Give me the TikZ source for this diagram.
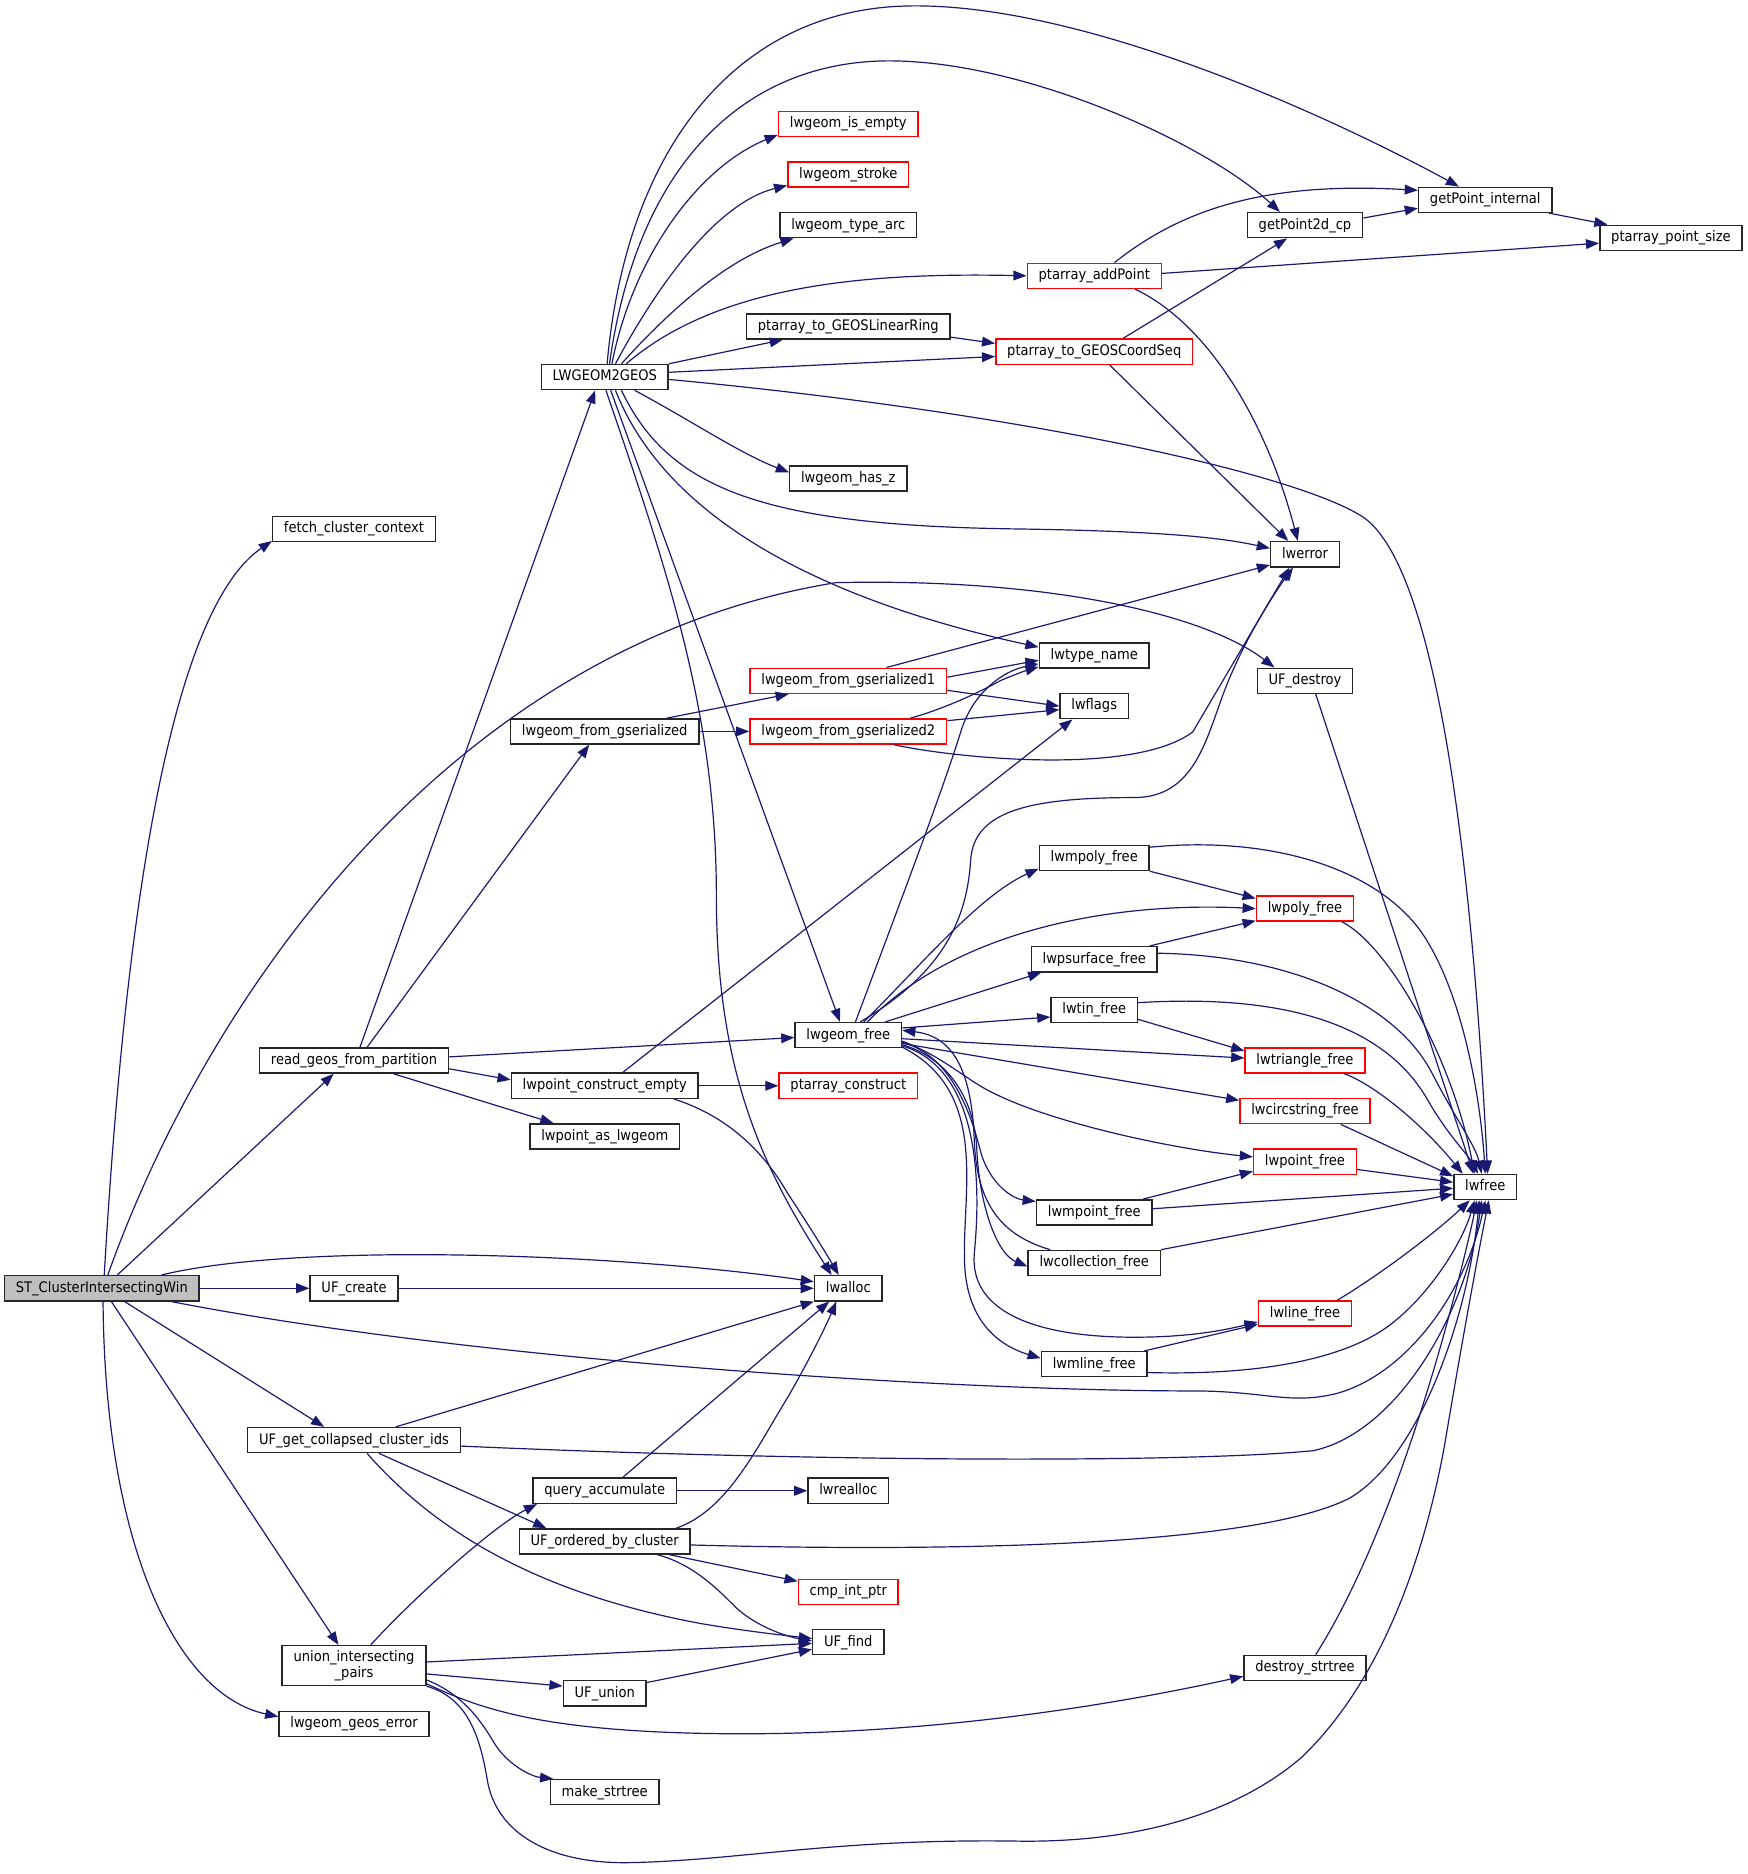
\documentclass[tikz,border=0pt]{standalone}
\usepackage{fontspec}
\newfontfamily\dgfont{DejaVu Sans}[FakeStretch=0.9]
\usetikzlibrary{arrows.meta,calc}
\definecolor{eblue}{HTML}{191970}
\definecolor{bgray}{HTML}{BFBFBF}
\definecolor{rnode}{HTML}{FF0000}
\begin{document}
\begin{tikzpicture}[x=0.6pt,y=-0.6pt,
  boxbase/.style={draw=black!85,line width=0.75pt,fill=white,inner xsep=5.7pt,inner ysep=0pt,
    font=\dgfont\fontsize{7.3}{8.4}\selectfont},
  box/.style={boxbase,minimum height=12.6pt,text height=5.5pt,text depth=1.6pt},
  rbox/.style={box,draw=rnode},
  e/.style={draw=eblue,line width=0.6pt,-{Triangle[length=6.6pt,width=4.9pt]}},
]
\useasboundingbox (0,0) rectangle (1464,1569.6);
% nodes
\node[box,fill=bgray] (st) at (85.3,1079) {ST\_ClusterIntersectingWin};
\node[box] (fetch) at (296.5,443) {fetch\_cluster\_context};
\node[box] (l2g) at (506.5,315.8) {LWGEOM2GEOS};
\node[rbox] (isempty) at (710.5,103.8) {lwgeom\_is\_empty};
\node[rbox] (stroke) at (710.5,146.2) {lwgeom\_stroke};
\node[box] (typearc) at (710.5,188.6) {lwgeom\_type\_arc};
\node[rbox] (addpoint) at (916.5,231) {ptarray\_addPoint};
\node[box] (linring) at (710.5,273.4) {ptarray\_to\_GEOSLinearRing};
\node[rbox] (coordseq) at (916.5,294.6) {ptarray\_to\_GEOSCoordSeq};
\node[box] (p2d) at (1093,188.6) {getPoint2d\_cp};
\node[box] (pint) at (1244,167.4) {getPoint\_internal};
\node[box] (psize) at (1399.5,199.2) {ptarray\_point\_size};
\node[box] (hasz) at (710.5,400.6) {lwgeom\_has\_z};
\node[box] (lwerror) at (1093,464.2) {lwerror};
\node[box] (ufdestroy) at (1093,570.2) {UF\_destroy};
\node[box] (lwtype) at (916.5,549) {lwtype\_name};
\node[box] (lwflags) at (916.5,591.4) {lwflags};
\node[rbox] (fg1) at (710.5,570.2) {lwgeom\_from\_gserialized1};
\node[rbox] (fg2) at (710.5,612.6) {lwgeom\_from\_gserialized2};
\node[box] (fg) at (506.5,612.6) {lwgeom\_from\_gserialized};
\node[box] (mpoly) at (916.5,718.6) {lwmpoly\_free};
\node[rbox] (poly) at (1093,761) {lwpoly\_free};
\node[box] (psurf) at (916.5,803.4) {lwpsurface\_free};
\node[box] (tin) at (916.5,845.8) {lwtin\_free};
\node[box] (gfree) at (710.5,867) {lwgeom\_free};
\node[rbox] (tri) at (1093,888.2) {lwtriangle\_free};
\node[rbox] (circ) at (1093,930.6) {lwcircstring\_free};
\node[rbox] (pfree) at (1093,973) {lwpoint\_free};
\node[box] (lwfree) at (1244,994.2) {lwfree};
\node[box] (mpoint) at (916.5,1015.4) {lwmpoint\_free};
\node[box] (coll) at (916.5,1057.8) {lwcollection\_free};
\node[rbox] (lnfree) at (1093,1100.2) {lwline\_free};
\node[box] (mline) at (916.5,1142.6) {lwmline\_free};
\node[box] (rgeos) at (296.5,888.2) {read\_geos\_from\_partition};
\node[box] (pce) at (506.5,909.4) {lwpoint\_construct\_empty};
\node[rbox] (pacons) at (710.5,909.4) {ptarray\_construct};
\node[box] (pasgeom) at (506.5,951.8) {lwpoint\_as\_lwgeom};
\node[box] (lwalloc) at (710.5,1079) {lwalloc};
\node[box] (ufcreate) at (296.5,1079) {UF\_create};
\node[box] (ufgcci) at (296.5,1206.2) {UF\_get\_collapsed\_cluster\_ids};
\node[box] (qacc) at (506.5,1248.6) {query\_accumulate};
\node[box] (lwrealloc) at (710.5,1248.6) {lwrealloc};
\node[box] (ufobc) at (506.5,1291) {UF\_ordered\_by\_cluster};
\node[rbox] (cmp) at (710.5,1333.4) {cmp\_int\_ptr};
\node[box] (uffind) at (710.5,1375.4) {UF\_find};
\node[boxbase,align=center,minimum height=20pt,inner ysep=1pt] (uip) at (296.5,1395) {union\_intersecting\\\_pairs};
\node[box] (ufunion) at (506.5,1418.2) {UF\_union};
\node[box] (dstr) at (1093,1397) {destroy\_strtree};
\node[box] (geoserr) at (296.5,1443.8) {lwgeom\_geos\_error};
\node[box] (mkstr) at (506.5,1501) {make\_strtree};
% ST edges
\draw[e] ($(st.north)+(2,0)$) .. controls (100,850) and (130,520) .. ($(fetch.south west)+(0,-1)$);
\draw[e] ($(st.north)+(5,0)$) .. controls (175,830) and (380,540) .. (700,488) .. controls (880,484) and (1010,515) .. ($(ufdestroy.north west)+(15,0)$);
\draw[e] ($(st.north)+(13,0)$) -- ($(rgeos.south)+(-17,0)$);
\draw[e] ($(st.north)+(50,0)$) .. controls (250,1040) and (520,1050) .. ($(lwalloc.west)+(0,-5.5)$);
\draw[e] (st.east) -- (ufcreate.west);
\draw[e] ($(st.south)+(58,0)$) .. controls (400,1140) and (800,1165) .. (1000,1165) .. controls (1060,1165) and (1080,1177) .. (1120,1167) .. controls (1180,1150) and (1228,1080) .. (lwfree.south);
\draw[e] ($(st.south)+(19,0)$) -- ($(ufgcci.north)+(-25,0)$);
\draw[e] ($(st.south)+(8,0)$) -- ($(uip.north)+(-13,0)$);
\draw[e] ($(st.south)+(1,0)$) .. controls (88,1300) and (150,1420) .. ($(geoserr.west)+(0,-6)$);
% read_geos_from_partition
\draw[e] ($(rgeos.north)+(5,0)$) -- ($(l2g.south)+(-8,0)$);
\draw[e] ($(rgeos.north)+(11,0)$) -- ($(fg.south)+(-13,0)$);
\draw[e] ($(rgeos.east)+(0,-3)$) -- ($(gfree.west)+(0,2)$);
\draw[e] ($(rgeos.east)+(0,7)$) -- ($(pce.west)+(0,-5)$);
\draw[e] ($(rgeos.south)+(33,0)$) -- ($(pasgeom.north)+(-43,0)$);
% LWGEOM2GEOS
\draw[e] ($(l2g.north)+(2,0)$) .. controls (525,120) and (620,8) .. (760,5) .. controls (900,2) and (1100,90) .. ($(pint.north)+(-22,0)$);
\draw[e] ($(l2g.north)+(4,0)$) .. controls (535,130) and (630,50) .. (747,51) .. controls (860,52) and (1010,120) .. ($(p2d.north)+(-21,0)$);
\draw[e] ($(l2g.north)+(6,0)$) .. controls (530,215) and (585,140) .. ($(isempty.south west)+(0,-2)$);
\draw[e] ($(l2g.north)+(9,0)$) .. controls (550,240) and (600,170) .. ($(stroke.south west)+(0,-2)$);
\draw[e] ($(l2g.north)+(14,0)$) .. controls (570,250) and (615,215) .. ($(typearc.south west)+(12,0)$);
\draw[e] ($(l2g.north)+(18,0)$) .. controls (600,240) and (720,228) .. (addpoint.west);
\draw[e] (l2g.north east) -- ($(linring.south west)+(31,0)$);
\draw[e] ($(l2g.east)+(0,-4)$) -- ($(coordseq.west)+(0,4)$);
\draw[e] ($(l2g.east)+(0,2)$) .. controls (850,345) and (1080,395) .. (1140,432) .. controls (1200,469) and (1232,700) .. ($(lwfree.north)+(2,0)$);
\draw[e] ($(l2g.south)+(25,0)$) .. controls (575,350) and (620,380) .. ($(hasz.west)+(0,-5)$);
\draw[e] ($(l2g.south)+(14,0)$) .. controls (560,410) and (640,440) .. (850,443) .. controls (990,445) and (1030,452) .. ($(lwerror.west)+(0,-5)$);
\draw[e] ($(l2g.south)+(9,0)$) .. controls (560,440) and (700,505) .. ($(lwtype.west)+(0,-7)$);
\draw[e] ($(l2g.south)+(5,0)$) -- ($(gfree.north)+(-7,0)$);
\draw[e] ($(l2g.south)+(1,0)$) .. controls (560,480) and (600,600) .. (600,750) .. controls (600,900) and (640,980) .. ($(lwalloc.north)+(-14,0)$);
% ptarray functions
\draw[e] ($(addpoint.north)+(17,0)$) .. controls (990,175) and (1060,152) .. ($(pint.west)+(0,-8)$);
\draw[e] ($(addpoint.east)+(0,-2)$) -- ($(psize.west)+(0,4.5)$);
\draw[e] ($(addpoint.south)+(34,0)$) .. controls (1010,270) and (1060,350) .. ($(lwerror.north)+(-6,0)$);
\draw[e] ($(linring.east)+(0,9)$) -- ($(coordseq.west)+(0,-7)$);
\draw[e] ($(coordseq.north)+(24,0)$) -- ($(p2d.south)+(-15,0)$);
\draw[e] ($(coordseq.south)+(13,0)$) -- ($(lwerror.north)+(-14,0)$);
\draw[e] ($(p2d.east)+(0,-6)$) -- ($(pint.west)+(0,7)$);
\draw[e] ($(pint.south east)+(-3,0)$) -- ($(psize.north west)+(7,0)$);
% gserialized
\draw[e] ($(fg.north)+(52,0)$) -- ($(fg1.south west)+(33,0)$);
\draw[e] (fg.east) -- (fg2.west);
\draw[e] ($(fg1.north)+(32,0)$) -- ($(lwerror.west)+(0,9)$);
\draw[e] ($(fg1.east)+(0,-3)$) -- ($(lwtype.west)+(0,4)$);
\draw[e] ($(fg1.east)+(0,8)$) -- ($(lwflags.west)+(0,0)$);
\draw[e] ($(fg2.north)+(52,0)$) .. controls (790,594) and (820,580) .. (838,570) .. controls (850,565) and (858,562) .. ($(lwtype.west)+(0,9.5)$);
\draw[e] ($(fg2.east)+(0,-9)$) -- ($(lwflags.west)+(0,3)$);
\draw[e] ($(fg2.south)+(38,0)$) .. controls (800,635) and (950,650) .. (999,613) -- ($(lwerror.south)+(-13,0)$);
\draw[e] ($(ufdestroy.south)+(9,0)$) -- ($(lwfree.north)+(-10,0)$);
% lwpoint_construct_empty
\draw[e] ($(pce.north)+(15,0)$) -- ($(lwflags.south west)+(11,0)$);
\draw[e] (pce.east) -- (pacons.west);
\draw[e] ($(pce.south)+(58,0)$) .. controls (610,935) and (640,965) .. (660,1000) .. controls (680,1030) and (695,1055) .. ($(lwalloc.north)+(-8,0)$);
% lwgeom_free
\draw[e] ($(gfree.north)+(6,0)$) .. controls (760,740) and (790,660) .. (805,612) .. controls (815,580) and (840,562) .. ($(lwtype.west)+(0,7)$);
\draw[e] ($(gfree.north)+(10,0)$) .. controls (790,815) and (810,770) .. (813,720) .. controls (816,680) and (860,668) .. (950,668) .. controls (1000,668) and (1010,620) .. (1025,580) .. controls (1040,540) and (1065,500) .. ($(lwerror.south)+(-10,0)$);
\draw[e] ($(gfree.north)+(13,0)$) .. controls (770,810) and (820,750) .. ($(mpoly.west)+(0,9)$);
\draw[e] ($(gfree.north)+(16,0)$) .. controls (800,780) and (930,755) .. (poly.west);
\draw[e] ($(gfree.north)+(31,0)$) -- ($(psurf.south west)+(9,0)$);
\draw[e] ($(gfree.east)+(0,-6)$) -- ($(tin.west)+(0,6)$);
\draw[e] ($(gfree.east)+(0,3)$) -- ($(tri.west)+(0,-2)$);
\draw[e] ($(gfree.east)+(0,7)$) -- ($(circ.west)+(0,-9)$);
\draw[e] ($(gfree.east)+(0,5)$) .. controls (790,885) and (810,905) .. (831,915) .. controls (880,940) and (980,962) .. ($(pfree.west)+(0,-4)$);
\draw[e] ($(gfree.east)+(0,6)$) .. controls (800,885) and (815,940) .. (822,967) .. controls (830,992) and (848,1004) .. ($(mpoint.north west)+(0,2)$);
\draw[e] ($(gfree.east)+(0,8)$) .. controls (790,885) and (815,915) .. (818,960) .. controls (820,1010) and (835,1050) .. ($(coll.west)+(0,3)$);
\draw[e] ($(coll.north west)+(19,0)$) .. controls (840,1035) and (818,1010) .. (816,955) .. controls (814,900) and (800,868) .. ($(gfree.east)+(0,-4)$);
\draw[e] ($(gfree.east)+(0,9)$) .. controls (820,895) and (822,990) .. (816,1050) .. controls (812,1100) and (870,1120) .. (950,1120) .. controls (1000,1120) and (1030,1113) .. ($(lnfree.west)+(0,7)$);
\draw[e] ($(gfree.east)+(0,10)$) .. controls (830,915) and (805,1000) .. (808,1060) .. controls (810,1100) and (830,1125) .. ($(mline.west)+(0,-5)$);
% free functions
\draw[e] (mpoly.south east) -- ($(poly.west)+(0,-8.5)$);
\draw[e] ($(mpoly.east)+(0,-9)$) .. controls (1060,700) and (1150,725) .. (1190,780) .. controls (1225,830) and (1240,920) .. (lwfree.north);
\draw[e] ($(psurf.north east)+(-7,0)$) -- ($(poly.south west)+(0,-1)$);
\draw[e] ($(psurf.east)+(0,-5)$) .. controls (1080,800) and (1170,840) .. (1200,900) .. controls (1222,942) and (1236,960) .. ($(lwfree.north)+(-3,0)$);
\draw[e] ($(tin.east)+(0,8)$) -- ($(tri.west)+(0,-8)$);
\draw[e] ($(tin.east)+(0,-6)$) .. controls (1080,832) and (1160,860) .. (1195,920) .. controls (1212,950) and (1228,965) .. ($(lwfree.north)+(-6,0)$);
\draw[e] ($(poly.south)+(31,0)$) .. controls (1160,790) and (1215,880) .. ($(lwfree.north)+(-9,0)$);
\draw[e] ($(tri.south)+(33,0)$) .. controls (1150,908) and (1190,940) .. ($(lwfree.north west)+(8,0)$);
\draw[e] ($(circ.south)+(30,0)$) -- ($(lwfree.west)+(0,-9)$);
\draw[e] ($(pfree.east)+(0,6.5)$) -- ($(lwfree.west)+(0,-4)$);
\draw[e] ($(mpoint.north east)+(-8,0)$) -- ($(pfree.west)+(0,8)$);
\draw[e] ($(mpoint.east)+(0,-3)$) -- ($(lwfree.west)+(0,1)$);
\draw[e] (coll.north east) -- ($(lwfree.west)+(0,6)$);
\draw[e] ($(lnfree.north)+(27,0)$) .. controls (1160,1065) and (1205,1030) .. ($(lwfree.south)+(-13,0)$);
\draw[e] ($(mline.north east)+(-3,0)$) -- ($(lnfree.west)+(0,9)$);
\draw[e] ($(mline.east)+(0,7)$) .. controls (1050,1152) and (1130,1140) .. (1170,1105) .. controls (1200,1080) and (1225,1040) .. ($(lwfree.south)+(-9,0)$);
% union-find
\draw[e] (ufcreate.east) -- (lwalloc.west);
\draw[e] ($(ufgcci.north)+(35,0)$) -- (lwalloc.south west);
\draw[e] ($(ufgcci.east)+(0,5)$) .. controls (700,1225) and (1000,1225) .. (1100,1215) .. controls (1170,1200) and (1228,1100) .. ($(lwfree.south)+(-3,0)$);
\draw[e] ($(ufgcci.south)+(21,0)$) -- ($(ufobc.north)+(-49,0)$);
\draw[e] ($(ufgcci.south)+(11,0)$) .. controls (380,1300) and (480,1340) .. (588,1360) .. controls (630,1367) and (660,1370) .. ($(uffind.west)+(0,-3)$);
\draw[e] ($(qacc.north)+(15,0)$) -- ($(lwalloc.south)+(-16,0)$);
\draw[e] (qacc.east) -- (lwrealloc.west);
\draw[e] ($(ufobc.north)+(60,0)$) .. controls (610,1265) and (635,1210) .. (660,1170) .. controls (680,1135) and (692,1110) .. ($(lwalloc.south)+(-10,0)$);
\draw[e] ($(ufobc.east)+(0,3)$) .. controls (800,1300) and (1050,1295) .. (1130,1255) .. controls (1190,1220) and (1230,1100) .. ($(lwfree.south)+(-5,0)$);
\draw[e] ($(ufobc.south)+(54,0)$) -- ($(cmp.west)+(0,-9)$);
\draw[e] ($(ufobc.south)+(44,0)$) .. controls (580,1310) and (600,1330) .. (615,1345) .. controls (630,1360) and (655,1370) .. ($(uffind.west)+(0,-1)$);
\draw[e] ($(uip.north)+(14,0)$) .. controls (340,1345) and (410,1280) .. ($(qacc.south west)+(4,0)$);
\draw[e] ($(uip.east)+(0,-3)$) -- ($(uffind.west)+(0,1)$);
\draw[e] ($(uip.east)+(0,7)$) -- ($(ufunion.west)+(0,-6)$);
\draw[e] ($(ufunion.east)+(0,-9)$) -- ($(uffind.west)+(0,6)$);
\draw[e] ($(uip.south east)+(0,-2)$) .. controls (400,1430) and (450,1450) .. (600,1452) .. controls (750,1454) and (900,1435) .. ($(dstr.west)+(0,7)$);
\draw[e] ($(uip.east)+(0,12)$) .. controls (390,1420) and (405,1445) .. (414,1460) .. controls (425,1478) and (445,1488) .. ($(mkstr.north west)+(3,0)$);
\draw[e] (uip.south east) .. controls (392,1422) and (402,1455) .. (408,1490) .. controls (415,1535) and (460,1562) .. (530,1560) .. controls (620,1558) and (700,1540) .. (850,1542) .. controls (960,1544) and (1040,1515) .. (1090,1472) .. controls (1150,1415) and (1190,1320) .. (1210,1210) .. controls (1220,1150) and (1236,1060) .. ($(lwfree.south)+(3,0)$);
\draw[e] ($(dstr.north)+(9,0)$) .. controls (1150,1310) and (1185,1200) .. (1200,1150) .. controls (1215,1100) and (1230,1040) .. ($(lwfree.south)+(-7,0)$);
\end{tikzpicture}
\end{document}
